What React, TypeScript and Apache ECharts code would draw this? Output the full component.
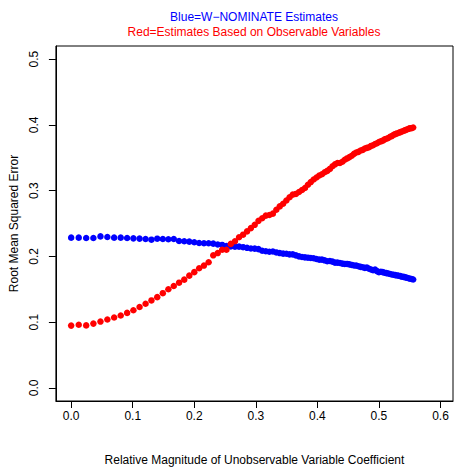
import React, { useEffect, useRef } from "react";
import * as echarts from "echarts";

// Relative magnitude of unobservable variable coefficient (x positions of the points)
const xValues: number[] = [
  0, 0.0123, 0.0244, 0.0361, 0.0476, 0.0588, 0.0698, 0.0805, 0.0909, 0.1011,
  0.1111, 0.1209, 0.1304, 0.1398, 0.1489, 0.1579, 0.1667, 0.1753, 0.1837, 0.1919,
  0.2, 0.2079, 0.2157, 0.2233, 0.2308, 0.2381, 0.2453, 0.2523, 0.2593, 0.2661,
  0.2727, 0.2793, 0.2857, 0.292, 0.2982, 0.3043, 0.3103, 0.3162, 0.322, 0.3277,
  0.3333, 0.3388, 0.3443, 0.3496, 0.3548, 0.36, 0.3651, 0.3701, 0.375, 0.3798,
  0.3846, 0.3893, 0.3939, 0.3985, 0.403, 0.4074, 0.4118, 0.416, 0.4203, 0.4245,
  0.4286, 0.4326, 0.4366, 0.4406, 0.4444, 0.4483, 0.4521, 0.4558, 0.4595, 0.4631,
  0.4667, 0.4702, 0.4737, 0.4771, 0.4805, 0.4839, 0.4872, 0.4904, 0.4937, 0.4969,
  0.5, 0.5031, 0.5062, 0.5092, 0.5122, 0.5152, 0.5181, 0.521, 0.5238, 0.5266,
  0.5294, 0.5322, 0.5349, 0.5376, 0.5403, 0.5429, 0.5455, 0.5481, 0.5506, 0.5531,
  0.5556,
];

// Blue = W-NOMINATE estimates (RMSE)
const blueValues: number[] = [
  0.2285, 0.2285, 0.228, 0.228, 0.2304, 0.2294, 0.2285, 0.2285, 0.228, 0.2274,
  0.227, 0.2264, 0.2254, 0.2269, 0.2264, 0.226, 0.2264, 0.2234, 0.223, 0.2224,
  0.2214, 0.2204, 0.22, 0.22, 0.2194, 0.218, 0.2174, 0.2158, 0.215, 0.2148,
  0.2148, 0.214, 0.213, 0.212, 0.2118, 0.211, 0.2085, 0.2078, 0.207, 0.2075,
  0.206, 0.205, 0.2042, 0.204, 0.203, 0.203, 0.2015, 0.2, 0.199, 0.1985,
  0.198, 0.1975, 0.1972, 0.196, 0.195, 0.195, 0.194, 0.1925, 0.193, 0.192,
  0.1905, 0.1905, 0.19, 0.189, 0.1885, 0.1885, 0.1878, 0.187, 0.1862, 0.186,
  0.185, 0.184, 0.1835, 0.1825, 0.183, 0.1812, 0.18, 0.179, 0.18, 0.1775,
  0.176, 0.1765, 0.176, 0.175, 0.1745, 0.174, 0.1732, 0.1725, 0.172, 0.1715,
  0.171, 0.1705, 0.17, 0.169, 0.1688, 0.168, 0.1675, 0.1668, 0.166, 0.1655,
  0.1648,
];

// Red = estimates based on observable variables (RMSE)
const redValues: number[] = [
  0.0947, 0.096, 0.095, 0.0977, 0.1008, 0.104, 0.107, 0.11, 0.114, 0.118,
  0.123, 0.128, 0.133, 0.138, 0.144, 0.15, 0.155, 0.16, 0.1646, 0.1707,
  0.176, 0.182, 0.186, 0.191, 0.2016, 0.205, 0.21, 0.21, 0.219, 0.223,
  0.229, 0.233, 0.238, 0.243, 0.248, 0.254, 0.258, 0.262, 0.263, 0.265,
  0.271, 0.276, 0.28, 0.285, 0.29, 0.294, 0.295, 0.298, 0.301, 0.304,
  0.309, 0.313, 0.317, 0.32, 0.323, 0.325, 0.328, 0.33, 0.333, 0.337,
  0.34, 0.342, 0.342, 0.344, 0.347, 0.349, 0.351, 0.353, 0.356, 0.358,
  0.359, 0.361, 0.362, 0.364, 0.365, 0.366, 0.368, 0.369, 0.371, 0.372,
  0.374, 0.375, 0.376, 0.378, 0.379, 0.38, 0.382, 0.383, 0.385, 0.386,
  0.387, 0.388, 0.389, 0.39, 0.391, 0.392, 0.393, 0.394, 0.395, 0.395,
  0.396,
];

const xTicks: number[] = [0, 0.1, 0.2, 0.3, 0.4, 0.5, 0.6];
const yTicks: number[] = [0, 0.1, 0.2, 0.3, 0.4, 0.5];

const FONT = "'Liberation Sans', Arial, Helvetica, sans-serif";

export default function App() {
  const ref = useRef<HTMLDivElement>(null);

  useEffect(() => {
    if (!ref.current) return;
    const chart = echarts.init(ref.current, null, { renderer: "svg" });
    const blueData = xValues.map((x, i) => [x, blueValues[i]]);
    const redData = xValues.map((x, i) => [x, redValues[i]]);
    chart.setOption({
      animation: false,
      backgroundColor: "#ffffff",
      textStyle: { fontFamily: FONT },
      graphic: [
        {
          type: "text",
          x: 254,
          y: 17,
          style: {
            text: "Blue=W\u2212NOMINATE Estimates",
            fill: "#0000ff",
            font: `12px ${FONT}`,
            align: "center",
            verticalAlign: "middle",
          },
        },
        {
          type: "text",
          x: 254,
          y: 32,
          style: {
            text: "Red=Estimates Based on Observable Variables",
            fill: "#ff0000",
            font: `12px ${FONT}`,
            align: "center",
            verticalAlign: "middle",
          },
        },
      ],
      grid: {
        left: 55,
        right: 1,
        top: 46,
        bottom: 71,
        show: true,
        borderColor: "#000000",
        borderWidth: 1,
        backgroundColor: "transparent",
      },
      xAxis: {
        type: "value",
        min: -0.0248,
        max: 0.6203,
        name: "Relative Magnitude of Unobservable Variable Coefficient",
        nameLocation: "middle",
        nameGap: 53,
        nameTextStyle: { color: "#000000", fontSize: 12, fontFamily: FONT },
        splitLine: { show: false },
        axisLine: { show: true, onZero: false, lineStyle: { color: "#000000", width: 1 } },
        axisTick: {
          show: true,
          inside: false,
          length: 7,
          customValues: xTicks,
          lineStyle: { color: "#000000", width: 1 },
        },
        axisLabel: {
          show: true,
          margin: 9,
          color: "#000000",
          fontSize: 12,
          fontFamily: FONT,
          customValues: xTicks,
          formatter: (v: number) => v.toFixed(1),
        },
      },
      yAxis: {
        type: "value",
        min: -0.02,
        max: 0.52,
        name: "Root Mean Squared Error",
        nameLocation: "middle",
        nameGap: 28,
        nameRotate: 90,
        nameTextStyle: { color: "#000000", fontSize: 12, fontFamily: FONT },
        splitLine: { show: false },
        axisLine: { show: true, onZero: false, lineStyle: { color: "#000000", width: 1 } },
        axisTick: {
          show: true,
          inside: false,
          length: 7,
          customValues: yTicks,
          lineStyle: { color: "#000000", width: 1 },
        },
        axisLabel: {
          show: true,
          rotate: 90,
          margin: 16,
          color: "#000000",
          fontSize: 12,
          fontFamily: FONT,
          customValues: yTicks,
          formatter: (v: number) => v.toFixed(1),
        },
      },
      series: [
        {
          name: "W-NOMINATE",
          type: "scatter",
          data: blueData,
          symbol: "circle",
          symbolSize: 6.5,
          clip: false,
          itemStyle: { color: "#0000ff", opacity: 1 },
          z: 2,
        },
        {
          name: "Observable",
          type: "scatter",
          data: redData,
          symbol: "circle",
          symbolSize: 6.5,
          clip: false,
          itemStyle: { color: "#ff0000", opacity: 1 },
          z: 3,
        },
      ],
    });
    return () => chart.dispose();
  }, []);

  return (
    <div
      ref={ref}
      style={{ position: "absolute", left: 0, top: 0, width: 454, height: 472 }}
    />
  );
}
